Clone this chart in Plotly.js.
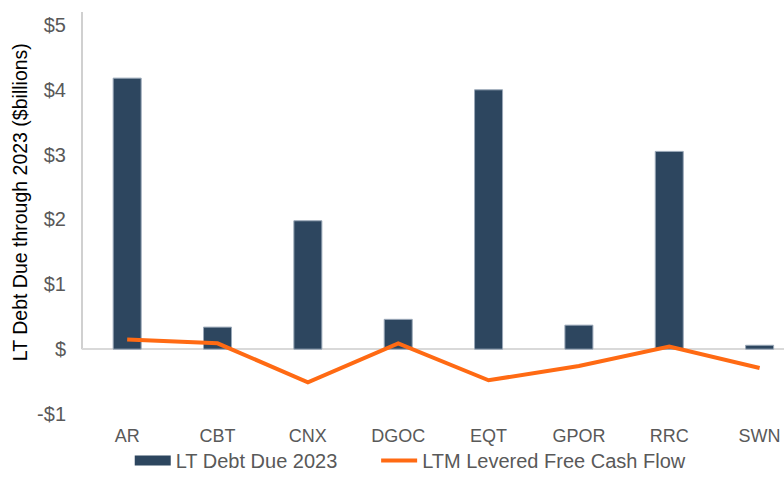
<!DOCTYPE html>
<html><head><meta charset="utf-8">
<script src="https://cdn.plot.ly/plotly-3.0.1.min.js"></script>
<style>html,body{margin:0;padding:0;background:#fff;}</style>
</head><body>
<div id="chart" style="width:784px;height:480px;"></div>
<script>
const categories = ["AR","CBT","CNX","DGOC","EQT","GPOR","RRC","SWN"];
const debtDue2023 = [4.18, 0.34, 1.98, 0.46, 4.00, 0.37, 3.05, 0.06];
const leveredFCF = [0.15, 0.09, -0.51, 0.09, -0.48, -0.26, 0.04, -0.29];
const yTickVals = [-1, 0, 1, 2, 3, 4, 5];
const yTickText = ["-$1", "$", "$1", "$2", "$3", "$4", "$5"];
const seriesNames = ["LT Debt Due 2023", "LTM Levered Free Cash Flow"];
const yTitle = "LT Debt Due through 2023 ($billions)";
const navy = '#2D465F', orange = '#FF6A13';

const traces = [
  {type:'bar', name:seriesNames[0], x:categories, y:debtDue2023, showlegend:false,
   width:0.31, marker:{color:navy, line:{color:'#9AA8B8', width:1}}},
  // legend-only entry to get a wide rectangular swatch like the original
  {type:'scatter', mode:'lines', name:seriesNames[0], x:[null], y:[null],
   line:{color:navy, width:10}, showlegend:true, hoverinfo:'skip', legend:'legend'},
  {type:'scatter', mode:'lines', name:seriesNames[1], x:categories, y:leveredFCF,
   line:{color:orange, width:4}, legend:'legend2'}
];
const legendBase = {orientation:'h', yanchor:'bottom', xanchor:'left', y:-0.164,
  font:{size:20, color:'#595959'}, itemwidth:36, bgcolor:'rgba(0,0,0,0)', borderwidth:0};
const layout = {
  width:784, height:480,
  margin:{l:82, r:0, t:12, b:66, autoexpand:false},
  paper_bgcolor:'#fff', plot_bgcolor:'#fff',
  font:{family:'Liberation Sans, Arial, sans-serif', color:'#595959'},
  showlegend:true,
  legend:Object.assign({}, legendBase, {x:0.068}),
  legend2:Object.assign({}, legendBase, {x:0.419}),
  xaxis:{type:'category', range:[-0.5, 7.27], showgrid:false, zeroline:false, showline:false,
    ticks:'', ticklabelstandoff:9, tickfont:{size:18, color:'#595959'}, automargin:false},
  yaxis:{range:[-1.0, 5.2], tickvals:yTickVals, ticktext:yTickText, showgrid:false,
    zeroline:true, zerolinecolor:'#D9D9D9', zerolinewidth:2, showline:false,
    ticks:'', ticklabelstandoff:15, tickfont:{size:20, color:'#595959'}, automargin:false},
  annotations:[{text:yTitle, textangle:-90, xref:'paper', yref:'paper',
    x:-0.0883, y:0.527, xanchor:'center', yanchor:'middle', showarrow:false,
    font:{size:19.5, color:'#000'}}],
  shapes:[{type:'line', xref:'paper', x0:0, x1:0, yref:'y', y0:0, y1:5.2,
    line:{color:'#D0D0D0', width:2}, layer:'below'}]
};
Plotly.newPlot('chart', traces, layout, {displayModeBar:false, staticPlot:true});
</script>
</body></html>
